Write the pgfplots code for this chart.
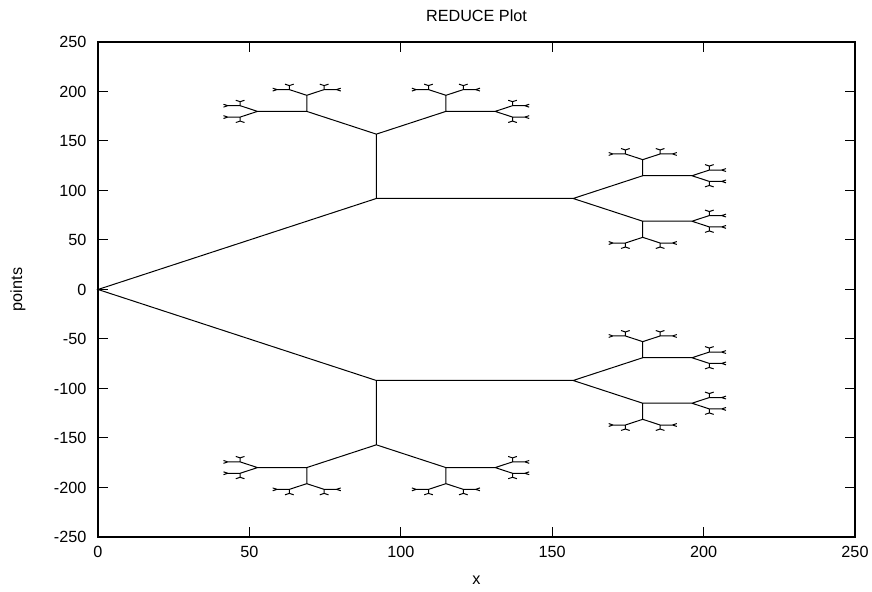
\documentclass[border=0pt]{standalone}
\usepackage{fontspec}
\setmainfont{Liberation Sans}
\usepackage{pgfplots}
\pgfplotsset{compat=1.18}

\newcommand{\gpfont}{\fontsize{8.1bp}{10bp}\selectfont}

\begin{document}
\begin{tikzpicture}
\begin{axis}[
  scale only axis,
  width=378.5bp, height=247.5bp,
  xmin=0, xmax=250, ymin=-250, ymax=250,
  xtick={0,50,...,250},
  ytick={-250,-200,...,250},
  minor tick num=0,
  tick align=inside,
  major tick length=5bp,
  axis line style={line width=0.6bp},
  every tick/.style={black, line width=0.5bp},
  /pgf/number format/assume math mode=true,
  tick label style={font=\gpfont},
  yticklabel style={xshift=-2.3bp},
  xticklabel style={yshift=-1bp},
  title={REDUCE Plot},
  title style={font=\gpfont, yshift=0.5bp},
  xlabel={x},
  ylabel={points},
  xlabel style={font=\gpfont, at={(axis description cs:0.5,0)}, anchor=base, yshift=-24bp},
  ylabel style={font=\gpfont, at={(axis description cs:0,0.5)}, anchor=center, yshift=40bp},
  unbounded coords=jump,
  clip=false,
]

% trunk and first two levels
\addplot[black, line width=0.5bp] coordinates {
(91.92,91.92) (0,0) (91.92,-91.92) (nan,nan)
(91.92,156.92) (91.92,91.92) (156.92,91.92) (nan,nan)
(91.92,-156.92) (91.92,-91.92) (156.92,-91.92)
};

% upper right cluster
\addplot[black, line width=0.5bp] coordinates {
(179.90,114.90) (156.92,91.92) (179.90,68.94) (nan,nan)
(179.90,131.15) (179.90,114.90) (196.15,114.90) (nan,nan)
(174.16,136.90) (179.90,131.15) (185.65,136.90) (nan,nan)
(201.90,120.65) (196.15,114.90) (201.90,109.16) (nan,nan)
(170.09,136.90) (174.16,136.90) (174.16,140.96) (nan,nan)
(185.65,140.96) (185.65,136.90) (189.71,136.90) (nan,nan)
(201.90,124.71) (201.90,120.65) (205.96,120.65) (nan,nan)
(201.90,105.09) (201.90,109.16) (205.96,109.16) (nan,nan)
(168.66,138.33) (170.09,136.90) (168.66,135.46) (nan,nan)
(172.72,142.40) (174.16,140.96) (175.59,142.40) (nan,nan)
(184.21,142.40) (185.65,140.96) (187.08,142.40) (nan,nan)
(191.15,138.33) (189.71,136.90) (191.15,135.46) (nan,nan)
(200.46,126.15) (201.90,124.71) (203.33,126.15) (nan,nan)
(207.40,122.08) (205.96,120.65) (207.40,119.21) (nan,nan)
(200.46,103.66) (201.90,105.09) (203.33,103.66) (nan,nan)
(207.40,110.59) (205.96,109.16) (207.40,107.72) (nan,nan)
(179.90,52.69) (179.90,68.94) (196.15,68.94) (nan,nan)
(174.16,46.94) (179.90,52.69) (185.65,46.94) (nan,nan)
(201.90,63.19) (196.15,68.94) (201.90,74.68) (nan,nan)
(170.09,46.94) (174.16,46.94) (174.16,42.88) (nan,nan)
(185.65,42.88) (185.65,46.94) (189.71,46.94) (nan,nan)
(201.90,59.13) (201.90,63.19) (205.96,63.19) (nan,nan)
(201.90,78.75) (201.90,74.68) (205.96,74.68) (nan,nan)
(168.66,45.51) (170.09,46.94) (168.66,48.38) (nan,nan)
(172.72,41.44) (174.16,42.88) (175.59,41.44) (nan,nan)
(184.21,41.44) (185.65,42.88) (187.08,41.44) (nan,nan)
(191.15,45.51) (189.71,46.94) (191.15,48.38) (nan,nan)
(200.46,57.69) (201.90,59.13) (203.33,57.69) (nan,nan)
(207.40,61.76) (205.96,63.19) (207.40,64.63) (nan,nan)
(200.46,80.18) (201.90,78.75) (203.33,80.18) (nan,nan)
(207.40,73.25) (205.96,74.68) (207.40,76.12)
};

% top cluster
\addplot[black, line width=0.5bp] coordinates {
(114.90,179.90) (91.92,156.92) (68.94,179.90) (nan,nan)
(131.15,179.90) (114.90,179.90) (114.90,196.15) (nan,nan)
(136.90,174.16) (131.15,179.90) (136.90,185.65) (nan,nan)
(120.65,201.90) (114.90,196.15) (109.16,201.90) (nan,nan)
(136.90,170.09) (136.90,174.16) (140.96,174.16) (nan,nan)
(140.96,185.65) (136.90,185.65) (136.90,189.71) (nan,nan)
(124.71,201.90) (120.65,201.90) (120.65,205.96) (nan,nan)
(105.09,201.90) (109.16,201.90) (109.16,205.96) (nan,nan)
(138.33,168.66) (136.90,170.09) (135.46,168.66) (nan,nan)
(142.40,172.72) (140.96,174.16) (142.40,175.59) (nan,nan)
(142.40,184.21) (140.96,185.65) (142.40,187.08) (nan,nan)
(138.33,191.15) (136.90,189.71) (135.46,191.15) (nan,nan)
(126.15,200.46) (124.71,201.90) (126.15,203.33) (nan,nan)
(122.08,207.40) (120.65,205.96) (119.21,207.40) (nan,nan)
(103.66,200.46) (105.09,201.90) (103.66,203.33) (nan,nan)
(110.59,207.40) (109.16,205.96) (107.72,207.40) (nan,nan)
(52.69,179.90) (68.94,179.90) (68.94,196.15) (nan,nan)
(46.94,174.16) (52.69,179.90) (46.94,185.65) (nan,nan)
(63.19,201.90) (68.94,196.15) (74.68,201.90) (nan,nan)
(46.94,170.09) (46.94,174.16) (42.88,174.16) (nan,nan)
(42.88,185.65) (46.94,185.65) (46.94,189.71) (nan,nan)
(59.13,201.90) (63.19,201.90) (63.19,205.96) (nan,nan)
(78.75,201.90) (74.68,201.90) (74.68,205.96) (nan,nan)
(45.51,168.66) (46.94,170.09) (48.38,168.66) (nan,nan)
(41.44,172.72) (42.88,174.16) (41.44,175.59) (nan,nan)
(41.44,184.21) (42.88,185.65) (41.44,187.08) (nan,nan)
(45.51,191.15) (46.94,189.71) (48.38,191.15) (nan,nan)
(57.69,200.46) (59.13,201.90) (57.69,203.33) (nan,nan)
(61.76,207.40) (63.19,205.96) (64.63,207.40) (nan,nan)
(80.18,200.46) (78.75,201.90) (80.18,203.33) (nan,nan)
(73.25,207.40) (74.68,205.96) (76.12,207.40)
};

% lower right cluster
\addplot[black, line width=0.5bp] coordinates {
(179.90,-114.90) (156.92,-91.92) (179.90,-68.94) (nan,nan)
(179.90,-131.15) (179.90,-114.90) (196.15,-114.90) (nan,nan)
(174.16,-136.90) (179.90,-131.15) (185.65,-136.90) (nan,nan)
(201.90,-120.65) (196.15,-114.90) (201.90,-109.16) (nan,nan)
(170.09,-136.90) (174.16,-136.90) (174.16,-140.96) (nan,nan)
(185.65,-140.96) (185.65,-136.90) (189.71,-136.90) (nan,nan)
(201.90,-124.71) (201.90,-120.65) (205.96,-120.65) (nan,nan)
(201.90,-105.09) (201.90,-109.16) (205.96,-109.16) (nan,nan)
(168.66,-138.33) (170.09,-136.90) (168.66,-135.46) (nan,nan)
(172.72,-142.40) (174.16,-140.96) (175.59,-142.40) (nan,nan)
(184.21,-142.40) (185.65,-140.96) (187.08,-142.40) (nan,nan)
(191.15,-138.33) (189.71,-136.90) (191.15,-135.46) (nan,nan)
(200.46,-126.15) (201.90,-124.71) (203.33,-126.15) (nan,nan)
(207.40,-122.08) (205.96,-120.65) (207.40,-119.21) (nan,nan)
(200.46,-103.66) (201.90,-105.09) (203.33,-103.66) (nan,nan)
(207.40,-110.59) (205.96,-109.16) (207.40,-107.72) (nan,nan)
(179.90,-52.69) (179.90,-68.94) (196.15,-68.94) (nan,nan)
(174.16,-46.94) (179.90,-52.69) (185.65,-46.94) (nan,nan)
(201.90,-63.19) (196.15,-68.94) (201.90,-74.68) (nan,nan)
(170.09,-46.94) (174.16,-46.94) (174.16,-42.88) (nan,nan)
(185.65,-42.88) (185.65,-46.94) (189.71,-46.94) (nan,nan)
(201.90,-59.13) (201.90,-63.19) (205.96,-63.19) (nan,nan)
(201.90,-78.75) (201.90,-74.68) (205.96,-74.68) (nan,nan)
(168.66,-45.51) (170.09,-46.94) (168.66,-48.38) (nan,nan)
(172.72,-41.44) (174.16,-42.88) (175.59,-41.44) (nan,nan)
(184.21,-41.44) (185.65,-42.88) (187.08,-41.44) (nan,nan)
(191.15,-45.51) (189.71,-46.94) (191.15,-48.38) (nan,nan)
(200.46,-57.69) (201.90,-59.13) (203.33,-57.69) (nan,nan)
(207.40,-61.76) (205.96,-63.19) (207.40,-64.63) (nan,nan)
(200.46,-80.18) (201.90,-78.75) (203.33,-80.18) (nan,nan)
(207.40,-73.25) (205.96,-74.68) (207.40,-76.12)
};

% bottom cluster
\addplot[black, line width=0.5bp] coordinates {
(114.90,-179.90) (91.92,-156.92) (68.94,-179.90) (nan,nan)
(131.15,-179.90) (114.90,-179.90) (114.90,-196.15) (nan,nan)
(136.90,-174.16) (131.15,-179.90) (136.90,-185.65) (nan,nan)
(120.65,-201.90) (114.90,-196.15) (109.16,-201.90) (nan,nan)
(136.90,-170.09) (136.90,-174.16) (140.96,-174.16) (nan,nan)
(140.96,-185.65) (136.90,-185.65) (136.90,-189.71) (nan,nan)
(124.71,-201.90) (120.65,-201.90) (120.65,-205.96) (nan,nan)
(105.09,-201.90) (109.16,-201.90) (109.16,-205.96) (nan,nan)
(138.33,-168.66) (136.90,-170.09) (135.46,-168.66) (nan,nan)
(142.40,-172.72) (140.96,-174.16) (142.40,-175.59) (nan,nan)
(142.40,-184.21) (140.96,-185.65) (142.40,-187.08) (nan,nan)
(138.33,-191.15) (136.90,-189.71) (135.46,-191.15) (nan,nan)
(126.15,-200.46) (124.71,-201.90) (126.15,-203.33) (nan,nan)
(122.08,-207.40) (120.65,-205.96) (119.21,-207.40) (nan,nan)
(103.66,-200.46) (105.09,-201.90) (103.66,-203.33) (nan,nan)
(110.59,-207.40) (109.16,-205.96) (107.72,-207.40) (nan,nan)
(52.69,-179.90) (68.94,-179.90) (68.94,-196.15) (nan,nan)
(46.94,-174.16) (52.69,-179.90) (46.94,-185.65) (nan,nan)
(63.19,-201.90) (68.94,-196.15) (74.68,-201.90) (nan,nan)
(46.94,-170.09) (46.94,-174.16) (42.88,-174.16) (nan,nan)
(42.88,-185.65) (46.94,-185.65) (46.94,-189.71) (nan,nan)
(59.13,-201.90) (63.19,-201.90) (63.19,-205.96) (nan,nan)
(78.75,-201.90) (74.68,-201.90) (74.68,-205.96) (nan,nan)
(45.51,-168.66) (46.94,-170.09) (48.38,-168.66) (nan,nan)
(41.44,-172.72) (42.88,-174.16) (41.44,-175.59) (nan,nan)
(41.44,-184.21) (42.88,-185.65) (41.44,-187.08) (nan,nan)
(45.51,-191.15) (46.94,-189.71) (48.38,-191.15) (nan,nan)
(57.69,-200.46) (59.13,-201.90) (57.69,-203.33) (nan,nan)
(61.76,-207.40) (63.19,-205.96) (64.63,-207.40) (nan,nan)
(80.18,-200.46) (78.75,-201.90) (80.18,-203.33) (nan,nan)
(73.25,-207.40) (74.68,-205.96) (76.12,-207.40)
};

\end{axis}
\pgfresetboundingbox
\path ([shift={(-49bp,-27.5bp)}]current axis.south west) rectangle ([shift={(8.5bp,21bp)}]current axis.north east);
\end{tikzpicture}
\end{document}
